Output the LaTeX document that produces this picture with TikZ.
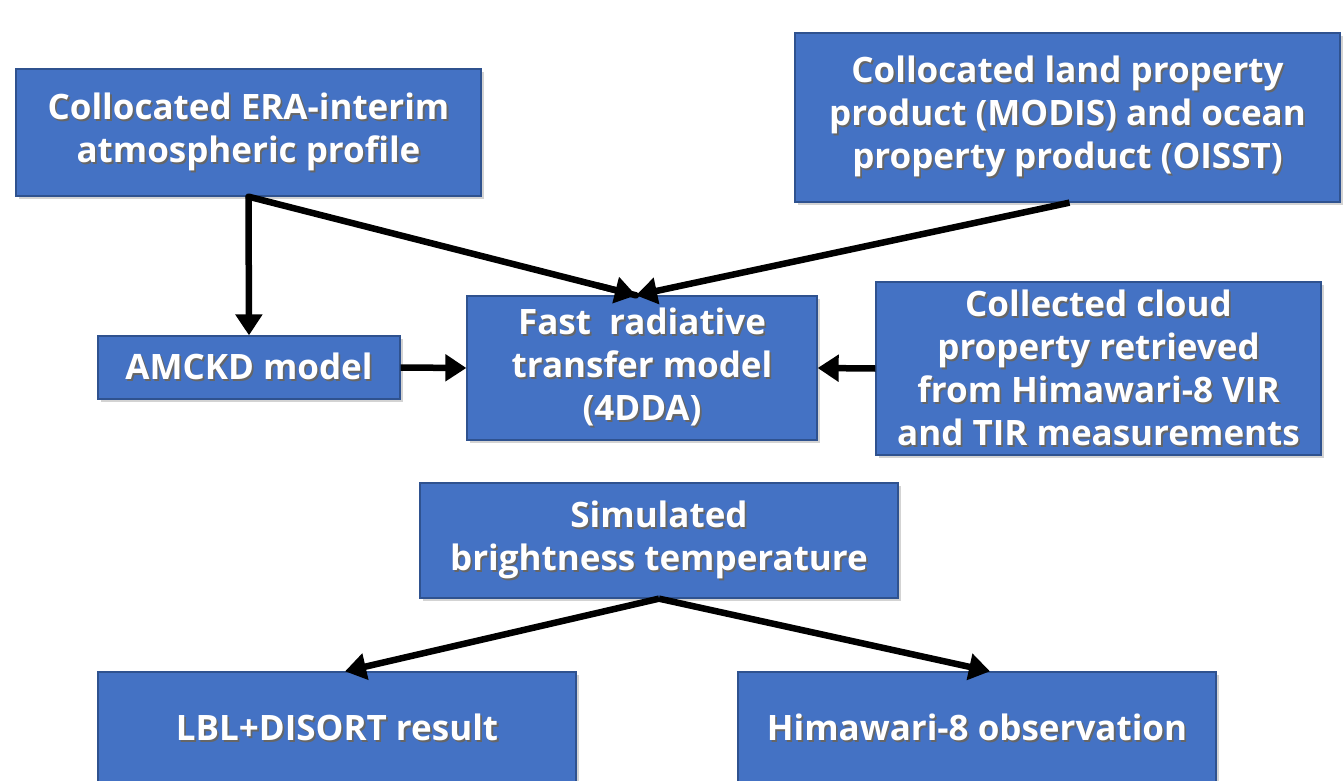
\documentclass[tikz,border=0pt]{standalone}
\usepackage{fontspec}
\setmainfont{Open Sans}
\usetikzlibrary{arrows.meta,shadows,calc}
\definecolor{boxfill}{HTML}{4472C4}
\definecolor{boxline}{HTML}{2F528F}
\newcommand{\sh}[1]{\leavevmode\rlap{\kern1.8pt\raisebox{-2pt}{\textcolor{black!60}{#1}}}#1}
\tikzset{
  box/.style={draw=boxline, line width=1.3pt, fill=boxfill, text=white,
    font=\fontsize{35}{43}\selectfont\bfseries, align=center, inner sep=0pt,
    drop shadow={opacity=0.35, shadow xshift=3pt, shadow yshift=-3pt}},
  conn/.style={line width=6.5pt, -{Triangle[length=21pt,width=26pt]}}
}
\begin{document}
\begin{tikzpicture}[x=1pt,y={(0pt,-1pt)}]
\useasboundingbox (0,0) rectangle (1343,781);
\node[box, minimum width=465pt, minimum height=127pt] (era) at (248.5,132.5)
  {\sh{Collocated ERA-interim}\\\sh{atmospheric profile}};
\node[box, minimum width=545pt, minimum height=169pt] (land) at (1067.5,117.5)
  {\sh{Collocated land property}\\\sh{product (MODIS) and ocean}\\\sh{property product (OISST)}};
\node[box, minimum width=302pt, minimum height=63pt] (amckd) at (249,367.5)
  {\sh{AMCKD model}};
\node[box, minimum width=350pt, minimum height=144pt] (fast) at (642,368)
  {\sh{Fast\ \ radiative}\\\sh{transfer model}\\\sh{(4DDA)}};
\node[box, minimum width=445pt, minimum height=173pt] (cloud) at (1098.5,368.5)
  {\sh{Collected cloud}\\\sh{property retrieved}\\\sh{from Himawari-8 VIR}\\\sh{and TIR measurements}};
\node[box, minimum width=478pt, minimum height=115pt] (sim) at (659,540.5)
  {\sh{Simulated}\\\sh{brightness temperature}};
\node[box, minimum width=478pt, minimum height=112pt] (lbl) at (337,728)
  {\sh{LBL+DISORT result}};
\node[box, minimum width=478pt, minimum height=112pt] (him) at (977,728)
  {\sh{Himawari-8 observation}};
\coordinate (fastin) at ($(fast.north)+(-6,0)$);
\draw[conn] (era.south) -- (amckd.north);
\draw[line width=6.5pt, line cap=round] (era.south) -- (fastin);
\draw[conn] ($(era.south)!0.9!(fastin)$) -- (fastin);
\draw[conn] ($(land.south)+(2,0)$) -- (fastin);
\draw[conn] (amckd.east) -- (fast.west);
\draw[conn] (cloud.west) -- (fast.east);
\draw[conn] (sim.south) -- ($(lbl.north)+(8,0)$);
\draw[conn] (sim.south) -- ($(him.north)+(13,0)$);
\end{tikzpicture}
\end{document}
